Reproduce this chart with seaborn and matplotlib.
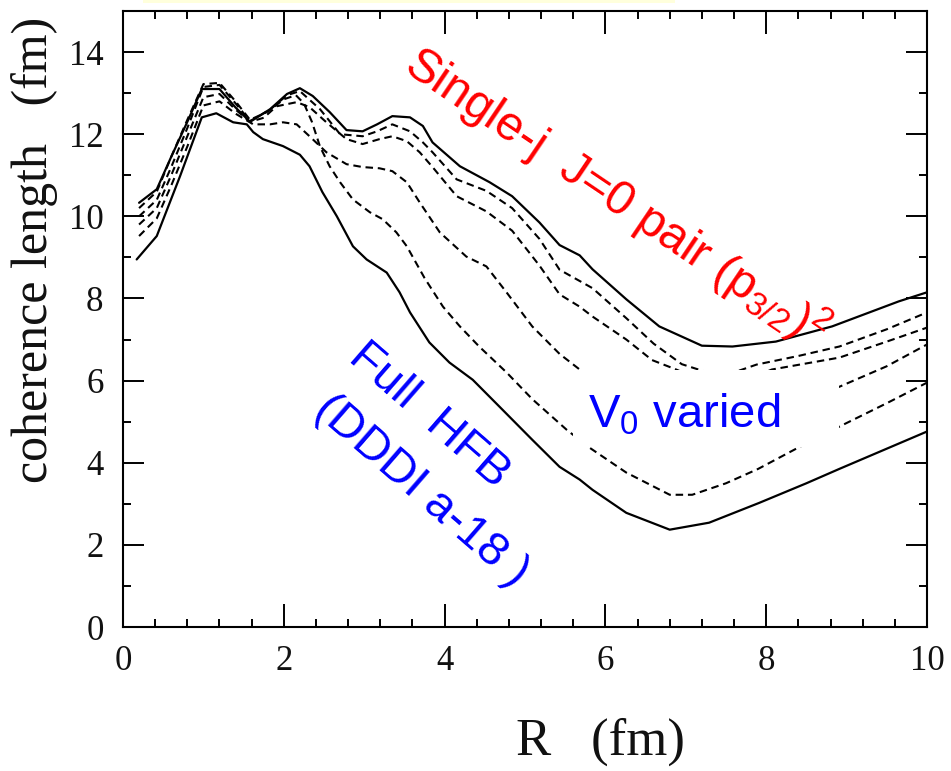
import numpy as np
import pandas as pd
import matplotlib
matplotlib.use("Agg")
import matplotlib.pyplot as plt
from matplotlib.patches import Rectangle
from matplotlib.ticker import MultipleLocator
import seaborn as sns

# ---------------- data ----------------
top_solid_R = [0.2, 0.42, 0.6, 0.8, 0.98, 1.2, 1.4, 1.58, 1.83, 2.04, 2.2, 2.36, 2.57, 2.78, 2.98,
               3.16, 3.35, 3.57, 3.73, 3.85, 4.19, 4.56, 4.84, 5.18, 5.43, 5.68, 5.84, 6.26, 6.67,
               7.2, 7.58, 8.12, 8.82, 9.65, 10.0]
top_solid_L = [10.33, 10.66, 11.45, 12.3, 13.1, 13.1, 12.65, 12.3, 12.61, 12.98, 13.12, 12.93, 12.54,
               12.1, 12.07, 12.24, 12.44, 12.41, 12.2, 11.8, 11.22, 10.83, 10.49, 9.85, 9.3, 9.05,
               8.71, 7.98, 7.32, 6.85, 6.83, 6.95, 7.32, 7.93, 8.15]

dash1_R = [0.2, 0.42, 0.6, 0.8, 1.0, 1.2, 1.4, 1.58, 1.83, 2.04, 2.2, 2.45, 2.7, 2.98, 3.16, 3.35,
           3.57, 3.73, 3.85, 4.15, 4.52, 4.84, 5.18, 5.43, 5.84, 6.26, 6.6, 6.95, 7.3, 7.6, 7.88,
           8.4, 8.91, 9.5, 10.0]
dash1_L = [10.0, 10.4, 11.2, 12.15, 13.15, 13.2, 12.75, 12.32, 12.6, 12.95, 13.05, 12.61, 12.0,
           11.95, 12.07, 12.24, 12.07, 11.8, 11.56, 10.9, 10.62, 10.2, 9.45, 8.7, 8.25, 7.52, 6.9,
           6.4, 6.18, 6.2, 6.39, 6.6, 6.83, 7.25, 7.66]

dash2_R = [0.2, 0.42, 0.6, 0.8, 1.0, 1.2, 1.4, 1.58, 1.75, 1.91, 2.16, 2.32, 2.53, 2.78, 2.98, 3.19,
           3.35, 3.53, 3.69, 3.85, 4.15, 4.52, 4.84, 5.18, 5.43, 5.68, 5.84, 6.26, 6.58, 6.88, 7.2,
           7.5, 7.8, 8.07, 8.91, 9.5, 10.0]
dash2_L = [9.8, 10.2, 11.0, 11.95, 12.9, 12.98, 12.6, 12.3, 12.4, 12.68, 12.78, 12.66, 12.29, 11.88,
           11.76, 11.88, 11.95, 11.83, 11.56, 11.2, 10.49, 10.12, 9.65, 8.8, 8.1, 7.8, 7.56, 7.0,
           6.5, 6.27, 6.0, 5.92, 6.05, 6.27, 6.56, 6.95, 7.29]

dash3_R = [0.2, 0.42, 0.6, 0.8, 1.0, 1.2, 1.4, 1.62, 1.83, 1.99, 2.16, 2.32, 2.53, 2.78, 2.98, 3.19,
           3.35, 3.53, 3.69, 3.94, 4.27, 4.52, 4.77, 5.09, 5.43, 5.68, 6.0, 6.5, 7.0, 7.5, 8.0, 8.5,
           8.91, 9.5, 10.0]
dash3_L = [9.52, 9.95, 10.75, 11.7, 12.7, 12.8, 12.5, 12.24, 12.24, 12.29, 12.24, 11.95, 11.56,
           11.27, 11.2, 11.17, 11.1, 10.83, 10.34, 9.61, 9.02, 8.78, 8.15, 7.32, 6.65, 6.27, 5.75,
           5.25, 5.0, 5.05, 5.25, 5.55, 5.85, 6.35, 6.88]

dash4_R = [0.2, 0.42, 0.6, 0.8, 1.0, 1.2, 1.4, 1.58, 1.8, 2.0, 2.15, 2.25, 2.35, 2.45, 2.57, 2.7,
           2.86, 3.07, 3.23, 3.4, 3.53, 3.75, 3.98, 4.19, 4.43, 4.77, 5.09, 5.52, 5.8, 6.26, 6.8,
           7.08, 7.5, 7.9, 8.4, 8.91, 9.5, 10.0]
dash4_L = [10.2, 10.6, 11.45, 12.35, 13.22, 13.25, 12.8, 12.35, 12.55, 12.85, 12.95, 12.75, 12.3,
           11.7, 11.22, 10.83, 10.41, 10.1, 9.93, 9.61, 9.27, 8.5, 7.8, 7.32, 6.83, 6.2, 5.55, 4.8,
           4.37, 3.76, 3.22, 3.22, 3.5, 3.85, 4.37, 4.88, 5.45, 5.95]

bottom_solid_R = [0.17, 0.42, 0.71, 0.98, 1.16, 1.37, 1.54, 1.62, 1.74, 1.99, 2.2, 2.32, 2.48, 2.66,
                  2.86, 3.03, 3.28, 3.44, 3.57, 3.81, 4.06, 4.35, 4.68, 5.09, 5.43, 5.68, 5.84,
                  6.26, 6.8, 7.29, 7.91, 8.5, 8.91, 10.0]
bottom_solid_L = [8.95, 9.52, 10.98, 12.41, 12.51, 12.29, 12.24, 12.05, 11.88, 11.71, 11.5, 11.22,
                  10.59, 10.0, 9.27, 8.95, 8.63, 8.15, 7.66, 6.93, 6.44, 6.02, 5.37, 4.56, 3.9,
                  3.59, 3.34, 2.78, 2.37, 2.54, 3.02, 3.5, 3.85, 4.76]

x_ticks = [0, 2, 4, 6, 8, 10]
y_ticks = [0, 2, 4, 6, 8, 10, 12, 14]

curves = [
    ("top", top_solid_R, top_solid_L, "solid"),
    ("d1", dash1_R, dash1_L, "dashed"),
    ("d2", dash2_R, dash2_L, "dashed"),
    ("d3", dash3_R, dash3_L, "dashed"),
    ("d4", dash4_R, dash4_L, "dashed"),
    ("bottom", bottom_solid_R, bottom_solid_L, "solid"),
]

# ---------------- style ----------------
sns.set_theme(style="ticks")
plt.rcParams["font.family"] = ["Liberation Serif", "DejaVu Serif"]
plt.rcParams["mathtext.fontset"] = "custom"
plt.rcParams["mathtext.rm"] = "Liberation Sans"
plt.rcParams["mathtext.it"] = "Liberation Sans:italic"
plt.rcParams["mathtext.bf"] = "Liberation Sans:bold"
plt.rcParams["lines.solid_joinstyle"] = "round"
plt.rcParams["lines.dash_joinstyle"] = "round"

W, H = 951, 771
fig = plt.figure(figsize=(W / 100, H / 100), dpi=100)
fig.patch.set_facecolor("white")
ax = fig.add_axes([123 / W, 1 - 627 / H, (927 - 123) / W, (627 - 11) / H])
ax.set_facecolor("white")

# pale yellow strip at top of the screenshot
fig.patches.append(Rectangle((143 / W, 1 - 3 / H), (675 - 143) / W, 3 / H,
                             transform=fig.transFigure, facecolor="#FFFFDC",
                             edgecolor="none", zorder=0))

for name, xs, ys, kind in curves:
    df = pd.DataFrame({"R": xs, "L": ys})
    if kind == "solid":
        sns.lineplot(data=df, x="R", y="L", ax=ax, color="black", lw=1.6,
                     estimator=None, sort=False, zorder=2)
    else:
        line_ax = sns.lineplot(data=df, x="R", y="L", ax=ax, color="black", lw=1.5,
                               estimator=None, sort=False, zorder=2)
        line_ax.lines[-1].set_dashes((3.6, 2.3))

ax.set_xlim(0, 10)
ax.set_ylim(0, 15)
ax.set_xticks(x_ticks)
ax.set_yticks(y_ticks)
ax.set_xticklabels([str(v) for v in x_ticks])
ax.set_yticklabels([str(v) for v in y_ticks])
ax.xaxis.set_minor_locator(MultipleLocator(0.4))
ax.yaxis.set_minor_locator(MultipleLocator(1))
ax.set_xlabel("")
ax.set_ylabel("")

for s in ax.spines.values():
    s.set_linewidth(1.5)
    s.set_color("black")
    s.set_visible(True)

ax.tick_params(which="both", direction="in", top=True, right=True, width=1.4, color="black")
ax.tick_params(axis="x", which="major", length=16.5, pad=13, labelsize=25, labelcolor="#111111")
ax.tick_params(axis="y", which="major", length=15, pad=14, labelsize=25, labelcolor="#111111")
ax.tick_params(which="minor", length=6)

# white box masking the curves behind the "V0 varied" label
ax.add_patch(Rectangle((5.6, 4.39), 8.91 - 5.6, 6.27 - 4.39, facecolor="white",
                       edgecolor="none", zorder=3))

sans = ["Liberation Sans", "DejaVu Sans"]
ax.text(3.47, 13.56, r"Single-j  J=0 pair (p$_{3/2}$)$^{2}$", color="red", fontsize=34.5,
        family=sans, rotation=-34, rotation_mode="anchor", ha="left", va="baseline", zorder=4)
ax.text(2.78, 6.51, "Full  HFB", color="blue", fontsize=34, family=sans,
        rotation=-41, rotation_mode="anchor", ha="left", va="baseline", zorder=4)
ax.text(2.36, 5.22, "(DDDI a-18 )", color="blue", fontsize=34, family=sans,
        rotation=-41, rotation_mode="anchor", ha="left", va="baseline", zorder=4)
ax.text(5.78, 4.85, r"V$_{0}$ varied", color="blue", fontsize=34, family=sans,
        ha="left", va="baseline", zorder=4)

fig.text(47 / W, 1 - 250 / H, "coherence length   (fm)", rotation=90, rotation_mode="anchor",
         ha="center", va="baseline", fontsize=36, color="#111111")
fig.text(600 / W, 1 - 755 / H, "R   (fm)", ha="center", va="baseline", fontsize=38,
         color="#111111")

fig.savefig("out.png", dpi=100)
